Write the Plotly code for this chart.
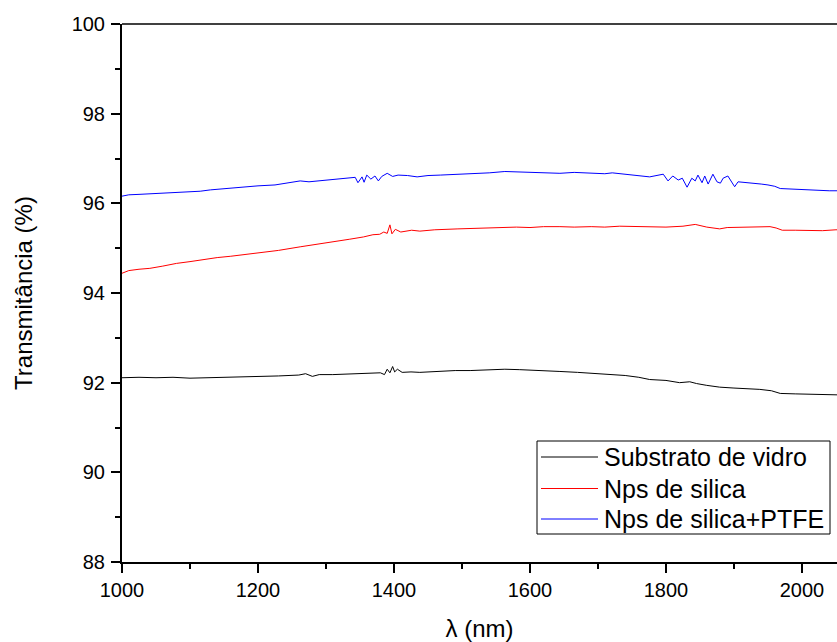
import plotly.graph_objects as go

# ---- data ----
x_blue = [1000, 1010, 1025, 1050, 1075, 1100, 1115, 1130, 1150, 1175, 1200, 1225, 1250, 1262, 1275,
          1300, 1321, 1343, 1347, 1353, 1356, 1360, 1366, 1372, 1377, 1382, 1390, 1398, 1406, 1420,
          1434, 1450, 1468, 1494, 1512, 1540, 1563, 1585, 1600, 1620, 1644, 1665, 1690, 1710, 1721,
          1740, 1760, 1776, 1796, 1803, 1810, 1818, 1824, 1831, 1838, 1843, 1847, 1853, 1857, 1862,
          1869, 1875, 1880, 1884, 1891, 1897, 1901, 1906, 1915, 1924, 1940, 1950, 1960, 1968, 1980,
          2000, 2020, 2040, 2060, 2080, 2100]
y_blue = [96.16, 96.19, 96.20, 96.22, 96.24, 96.26, 96.27, 96.30, 96.33, 96.36, 96.39, 96.41, 96.46, 96.50, 96.48,
          96.52, 96.56, 96.58, 96.46, 96.59, 96.47, 96.63, 96.54, 96.61, 96.50, 96.60, 96.67, 96.60, 96.63, 96.62,
          96.59, 96.62, 96.63, 96.65, 96.65, 96.68, 96.71, 96.70, 96.69, 96.68, 96.67, 96.69, 96.67, 96.66, 96.68,
          96.65, 96.63, 96.59, 96.65, 96.50, 96.61, 96.52, 96.56, 96.36, 96.56, 96.50, 96.63, 96.46, 96.61, 96.43,
          96.65, 96.48, 96.45, 96.56, 96.61, 96.46, 96.37, 96.48, 96.47, 96.46, 96.43, 96.41, 96.38, 96.33, 96.32,
          96.32, 96.29, 96.28, 96.28, 96.27, 96.27]

x_red = [1000, 1010, 1025, 1041, 1060, 1080, 1100, 1115, 1140, 1160, 1188, 1210, 1230, 1262, 1285,
         1310, 1335, 1355, 1369, 1379, 1385, 1390, 1394, 1397, 1402, 1410, 1426, 1438, 1460, 1494,
         1512, 1530, 1560, 1580, 1600, 1620, 1644, 1665, 1690, 1710, 1732, 1760, 1780, 1800, 1825,
         1843, 1860, 1879, 1890, 1910, 1930, 1953, 1962, 1971, 1990, 2010, 2030, 2050, 2070, 2100]
y_red = [94.44, 94.50, 94.53, 94.55, 94.60, 94.66, 94.70, 94.74, 94.79, 94.82, 94.87, 94.91, 94.95, 95.03, 95.08,
         95.14, 95.20, 95.25, 95.30, 95.31, 95.36, 95.33, 95.52, 95.32, 95.42, 95.36, 95.40, 95.38, 95.41, 95.43,
         95.44, 95.45, 95.46, 95.47, 95.46, 95.48, 95.48, 95.47, 95.48, 95.47, 95.49, 95.48, 95.47, 95.47, 95.49,
         95.53, 95.47, 95.43, 95.46, 95.47, 95.48, 95.48, 95.45, 95.40, 95.40, 95.40, 95.39, 95.41, 95.40, 95.40]

x_black = [1000, 1025, 1050, 1075, 1100, 1125, 1150, 1175, 1203, 1230, 1260, 1270, 1280, 1290, 1310,
           1340, 1365, 1380, 1386, 1390, 1394, 1398, 1401, 1405, 1412, 1425, 1438, 1460, 1490, 1512,
           1540, 1563, 1585, 1605, 1625, 1644, 1670, 1695, 1718, 1740, 1760, 1776, 1800, 1820, 1835,
           1845, 1860, 1879, 1900, 1920, 1938, 1955, 1968, 1990, 2010, 2030, 2050, 2075, 2100]
y_black = [92.11, 92.12, 92.11, 92.12, 92.10, 92.11, 92.12, 92.12, 92.13, 92.15, 92.17, 92.20, 92.14, 92.18, 92.18,
           92.20, 92.21, 92.22, 92.18, 92.30, 92.22, 92.36, 92.24, 92.30, 92.23, 92.24, 92.23, 92.25, 92.27, 92.27,
           92.28, 92.30, 92.29, 92.28, 92.26, 92.25, 92.23, 92.21, 92.19, 92.16, 92.12, 92.07, 92.05, 92.00, 92.02,
           91.98, 91.94, 91.90, 91.88, 91.87, 91.85, 91.82, 91.76, 91.75, 91.74, 91.73, 91.72, 91.72, 91.72]

names = ["Substrato de vidro", "Nps de silica", "Nps de silica+PTFE"]
colors = ["#000000", "#ff0000", "#0000ff"]

FONT = "Liberation Sans, Arial, sans-serif"

fig = go.Figure()
for xs, ys, nm, c in [(x_black, y_black, names[0], colors[0]),
                      (x_red, y_red, names[1], colors[1]),
                      (x_blue, y_blue, names[2], colors[2])]:
    fig.add_trace(go.Scatter(x=xs, y=ys, mode="lines", name=nm,
                             line=dict(color=c, width=1), showlegend=False))

axis_common = dict(
    showline=True, linecolor="black", linewidth=2, mirror=False,
    ticks="outside", ticklen=9, tickwidth=2, tickcolor="black",
    showgrid=False, zeroline=False,
    tickfont=dict(family=FONT, size=20, color="black"),
)

# plot-area geometry in pixels (for the hand-made legend box)
L, R, T, B = 122, 837, 24, 562
def px(x):
    return (x - L) / (R - L)
def py(y):
    return (B - y) / (B - T)

shapes = [dict(type="line", xref="paper", yref="paper", x0=0, x1=1, y0=1, y1=1,
               line=dict(color="black", width=1.5)),
          dict(type="rect", xref="paper", yref="paper", x0=px(537), x1=px(830),
               y0=py(534), y1=py(441), line=dict(color="black", width=1),
               fillcolor="white", layer="above")]
annotations = []
row_y = [457, 488.5, 519]
for nm, c, ry in zip(names, colors, row_y):
    shapes.append(dict(type="line", xref="paper", yref="paper", x0=px(541), x1=px(598),
                       y0=py(ry), y1=py(ry), line=dict(color=c, width=1), layer="above"))
    annotations.append(dict(xref="paper", yref="paper", x=px(602), y=py(ry), text=nm,
                            showarrow=False, xanchor="left", yanchor="middle",
                            font=dict(family=FONT, size=25, color="black")))

fig.update_layout(
    width=837, height=642,
    margin=dict(l=L, r=837 - R, t=T, b=642 - B, autoexpand=False),
    paper_bgcolor="white", plot_bgcolor="white",
    font=dict(family=FONT, color="black"),
    xaxis=dict(range=[1000, 2051.5], dtick=200, tick0=1000,
               minor=dict(dtick=100, ticks="outside", ticklen=5, tickwidth=2, tickcolor="black"),
               title=dict(text="λ (nm)", font=dict(family=FONT, size=24), standoff=21),
               ticklabelstandoff=0, automargin=False, **axis_common),
    yaxis=dict(range=[88, 100], dtick=2, tick0=88,
               minor=dict(dtick=1, ticks="outside", ticklen=5, tickwidth=2, tickcolor="black"),
               title=dict(text="Transmitância (%)", font=dict(family=FONT, size=24), standoff=32),
               ticklabelstandoff=2, automargin=False, **axis_common),
    showlegend=False,
    shapes=shapes,
    annotations=annotations,
)

fig.write_html("out.html",
               config={"displayModeBar": False},
               post_script="document.body.style.margin='0';document.body.style.padding='0';"
                           "document.body.style.overflow='hidden';")
